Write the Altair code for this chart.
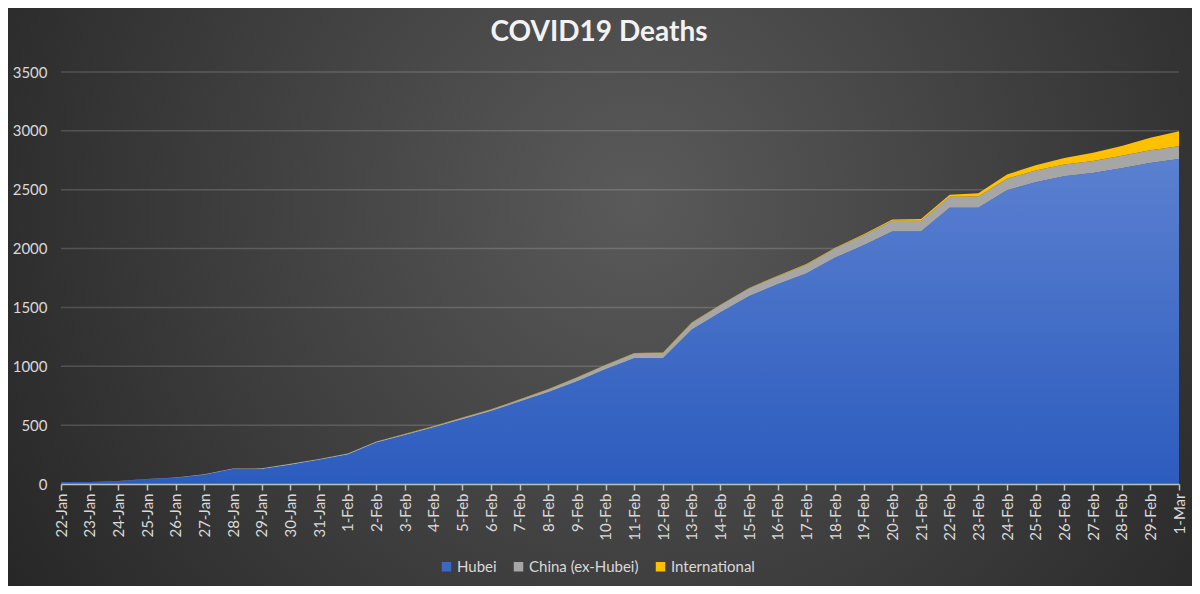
import altair as alt
import pandas as pd

dates = ["22-Jan", "23-Jan", "24-Jan", "25-Jan", "26-Jan", "27-Jan", "28-Jan", "29-Jan",
         "30-Jan", "31-Jan", "1-Feb", "2-Feb", "3-Feb", "4-Feb", "5-Feb", "6-Feb", "7-Feb",
         "8-Feb", "9-Feb", "10-Feb", "11-Feb", "12-Feb", "13-Feb", "14-Feb", "15-Feb",
         "16-Feb", "17-Feb", "18-Feb", "19-Feb", "20-Feb", "21-Feb", "22-Feb", "23-Feb",
         "24-Feb", "25-Feb", "26-Feb", "27-Feb", "28-Feb", "29-Feb", "1-Mar"]

hubei = [17, 17, 24, 40, 52, 76, 125, 125, 162, 204, 249, 350, 414, 479, 549, 618, 699,
         780, 871, 974, 1068, 1068, 1310, 1457, 1596, 1696, 1789, 1921, 2029, 2144, 2144,
         2346, 2346, 2495, 2563, 2615, 2641, 2682, 2727, 2761]

china_ex_hubei = [0, 1, 2, 2, 4, 6, 6, 8, 9, 9, 10, 11, 11, 11, 13, 14, 18, 24, 33, 37, 43,
                  48, 58, 63, 66, 69, 74, 81, 85, 92, 92, 95, 97, 98, 100, 100, 103, 106,
                  108, 109]

international = [0, 0, 0, 0, 0, 0, 0, 0, 0, 0, 0, 1, 1, 2, 2, 2, 2, 2, 2, 2, 2, 2, 3, 3, 4,
                 5, 5, 5, 8, 11, 15, 17, 26, 36, 45, 55, 70, 84, 106, 126]

series_names = ["Hubei", "China (ex-Hubei)", "International"]
series_colors = ["#3a68c8", "#a6a6a6", "#ffc000"]
y_ticks = [0, 500, 1000, 1500, 2000, 2500, 3000, 3500]
title_text = "COVID19 Deaths"

rows = []
for s_i, (name, vals) in enumerate(zip(series_names, [hubei, china_ex_hubei, international])):
    for d, v in zip(dates, vals):
        rows.append({"date": d, "series": name, "value": v, "sorder": s_i})
df = pd.DataFrame(rows)
df_grid = pd.DataFrame({"value": y_ticks[1:]})

FONT = "Lato"
W, H = 1118, 412
PAD = {"left": 53, "top": 64, "right": 13, "bottom": 102}
YSCALE = alt.Scale(domain=[0, 3500], nice=False)
XSCALE = alt.Scale(type="point", padding=0)

X_AXIS = alt.Axis(labelAngle=-90, labelFontSize=15, labelColor="#d9d9d9",
                  labelFont=FONT, labelPadding=3, tickColor="#bfbfbf", tickSize=6,
                  tickWidth=1.5, domainColor="#bfbfbf", domainWidth=1.5, grid=False,
                  zindex=1)
Y_AXIS = alt.Axis(values=y_ticks, format="d", domain=False, ticks=False, labelFontSize=15,
                  labelColor="#d9d9d9", labelFont=FONT, labelPadding=14,
                  grid=False, zindex=1)

def xenc():
    return alt.X("date:O", sort=dates, scale=XSCALE, title=None, axis=X_AXIS)

def yenc(**kw):
    return alt.Y("value:Q", scale=YSCALE, title=None, axis=Y_AXIS, **kw)

bg = alt.Chart(pd.DataFrame({"a": [0]})).mark_rect(
    fill=alt.Gradient(gradient="radial",
                      stops=[alt.GradientStop(offset=0, color="#5a5a5a"),
                             alt.GradientStop(offset=1, color="#212121")],
                      x1=0.53, y1=0.42, r1=0, x2=0.53, y2=0.42, r2=0.68),
    clip=False
).encode(x=alt.value(-PAD["left"] - 10), x2=alt.value(W + PAD["right"] + 10),
         y=alt.value(-PAD["top"] - 10), y2=alt.value(H + PAD["bottom"] + 10))

grid = alt.Chart(df_grid).mark_rule(color="#ffffff", opacity=0.16, strokeWidth=1.5).encode(
    y=yenc(),
    x=alt.value(0), x2=alt.value(W),
)

area = alt.Chart(df).mark_area().encode(
    x=xenc(),
    y=yenc(stack="zero"),
    color=alt.Color("series:N", scale=alt.Scale(domain=series_names, range=series_colors),
                    legend=alt.Legend(title=None, orient="none", direction="horizontal",
                                      legendX=378, legendY=487, symbolType="square",
                                      symbolSize=90, symbolStrokeWidth=0, labelFontSize=15,
                                      labelColor="#d9d9d9", labelFont=FONT, columnPadding=14,
                                      labelOffset=3, zindex=1)),
    order=alt.Order("sorder:Q", sort="ascending"),
)

hubei_grad = alt.Chart(df).transform_filter(alt.datum.series == "Hubei").mark_area(
    fill=alt.Gradient(gradient="linear",
                      stops=[alt.GradientStop(offset=0, color="#5b80d0"),
                             alt.GradientStop(offset=1, color="#2c5cbe")],
                      x1=0, y1=0, x2=0, y2=1)
).encode(x=xenc(), y=yenc(stack=None))

title = alt.Chart(pd.DataFrame({"t": [title_text]})).mark_text(
    font=FONT, fontSize=28, fontWeight="bold", color="#f2f2f2",
    align="center", baseline="middle"
).encode(text="t:N", x=alt.value(W / 2 - 21), y=alt.value(-39))

chart = alt.layer(bg, grid, area, hubei_grad, title).properties(
    width=W, height=H,
    autosize=alt.AutoSizeParams(type="none"),
    padding=PAD,
).configure_view(stroke=None).configure(background="#262626")

chart.save("out.html", embed_options={"renderer": "svg", "actions": False})
